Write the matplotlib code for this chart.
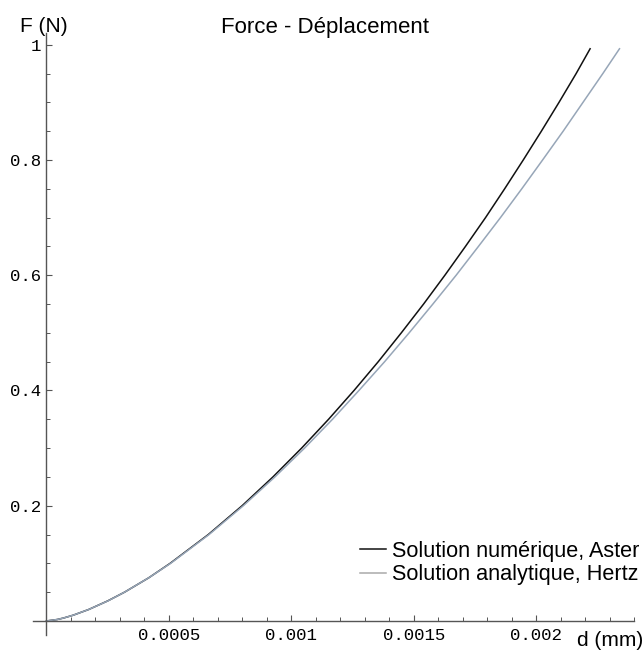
import matplotlib
matplotlib.use("Agg")
import matplotlib.pyplot as plt
from matplotlib.ticker import MultipleLocator, FixedLocator, FixedFormatter

# Data (d in mm, F in N)
F_values = [0, 0.0025, 0.005, 0.01, 0.02, 0.035, 0.05, 0.075,
            0.1, 0.15, 0.2, 0.25, 0.3, 0.35, 0.4, 0.45,
            0.5, 0.55, 0.6, 0.65, 0.7, 0.75, 0.8, 0.85, 0.9, 0.95, 0.993]
d_aster = [0, 0.0000433, 0.0000688, 0.000109, 0.000173, 0.000251, 0.000319, 0.000418,
           0.000505, 0.000661, 0.000799, 0.000925, 0.001042, 0.001152, 0.001256, 0.001355,
           0.001449, 0.001540, 0.001627, 0.001711, 0.001793, 0.001871, 0.001947,
           0.002021, 0.002093, 0.002163, 0.00222]
d_hertz = [0, 0.0000433, 0.0000688, 0.000109, 0.000173, 0.000252, 0.000319, 0.000418,
           0.000507, 0.000664, 0.000804, 0.000933, 0.001054, 0.001168, 0.001276, 0.001381,
           0.001481, 0.001578, 0.001673, 0.001764, 0.001854, 0.001941, 0.002026,
           0.002110, 0.002191, 0.002272, 0.00234]

x_ticks = [0.0005, 0.001, 0.0015, 0.002]
x_labels = ["0.0005", "0.001", "0.0015", "0.002"]
y_ticks = [0.2, 0.4, 0.6, 0.8, 1.0]
y_labels = ["0.2", "0.4", "0.6", "0.8", "1"]

label_aster = "Solution numérique, Aster"
label_hertz = "Solution analytique, Hertz"
title = "Force - Déplacement"

fig = plt.figure(figsize=(6.43, 6.51), dpi=100)
ax = fig.add_axes([0.0513, 0.024, 0.935, 0.925])
ax.set_xlim(-0.000055, 0.0024)
ax.set_ylim(-0.025, 1.02)

ax.plot(d_aster, F_values, color="#111111", lw=1.1, label=label_aster)
ax.plot(d_hertz, F_values, color="#97a6b8", lw=1.1, label=label_hertz)

for s in ["top", "right"]:
    ax.spines[s].set_visible(False)
ax.spines["left"].set_position(("data", 0))
ax.spines["bottom"].set_position(("data", 0))
for s in ["left", "bottom"]:
    ax.spines[s].set_color("#555555")
    ax.spines[s].set_linewidth(1.0)

ax.xaxis.set_major_locator(FixedLocator(x_ticks))
ax.xaxis.set_major_formatter(FixedFormatter(x_labels))
ax.xaxis.set_minor_locator(MultipleLocator(0.0001))
ax.yaxis.set_major_locator(FixedLocator(y_ticks))
ax.yaxis.set_major_formatter(FixedFormatter(y_labels))
ax.yaxis.set_minor_locator(MultipleLocator(0.05))

mono = "Liberation Mono"
ax.tick_params(axis="both", which="major", direction="in", length=4.5, width=0.8,
               color="#555555", labelsize=12.5, pad=4)
ax.tick_params(axis="both", which="minor", direction="in", length=3, width=0.7,
               color="#555555")
ax.tick_params(axis="x", which="major", pad=5)
for lab in ax.get_xticklabels() + ax.get_yticklabels():
    lab.set_family(mono)

ax.set_facecolor("white")
fig.text(44 / 643, 1 - 26 / 651, "F (N)", ha="center", va="center",
         fontsize=15, family="Liberation Sans")
fig.text(325 / 643, 1 - 27 / 651, title, ha="center", va="center",
         fontsize=16, family="Liberation Sans")
fig.text(1.0, 1 - 641 / 651, "d (mm)", ha="right", va="center",
         fontsize=15, family="Liberation Sans")

leg = ax.legend(loc="upper left", bbox_to_anchor=(360 / 643, 1 - 541 / 651),
                bbox_transform=fig.transFigure, frameon=False, borderpad=0,
                borderaxespad=0, handlelength=1.2, handletextpad=0.3,
                labelspacing=0.1, prop={"family": "Liberation Sans", "size": 15.6})
leg.get_lines()[1].set_color("#aaaaaa")

fig.savefig("out.png", dpi=100, facecolor="white")
